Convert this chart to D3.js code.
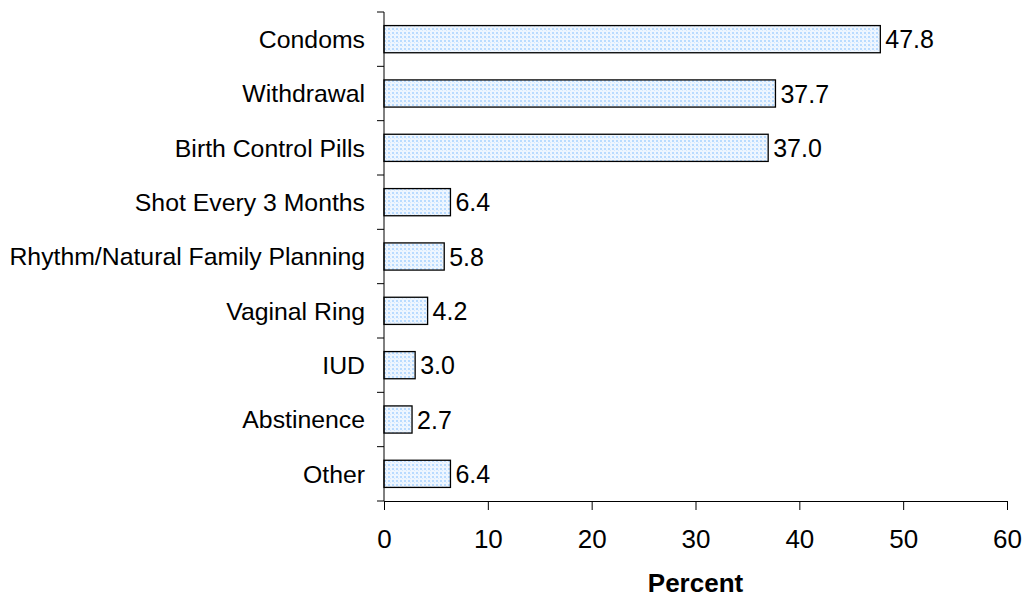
<!DOCTYPE html>
<html>
<head>
<meta charset="utf-8">
<script src="https://cdn.jsdelivr.net/npm/d3@7"></script>
<style>
  body { margin: 0; background: #fff; }
  text { font-family: "Liberation Sans", Arial, sans-serif; }
</style>
</head>
<body>
<div id="chart"></div>
<script>
// chart data
const categories = ["Condoms", "Withdrawal", "Birth Control Pills", "Shot Every 3 Months",
  "Rhythm/Natural Family Planning", "Vaginal Ring", "IUD", "Abstinence", "Other"];
const values = [47.8, 37.7, 37.0, 6.4, 5.8, 4.2, 3.0, 2.7, 6.4];
const xTicks = [0, 10, 20, 30, 40, 50, 60];

const width = 1026;
const height = 601;
const margin = {left: 384, right: 19, top: 12, bottom: 100};

const svg = d3.select("#chart")
  .append("svg")
  .attr("width", width)
  .attr("height", height);

// dotted fill like the original
const defs = svg.append("defs");
const pat = defs.append("pattern")
  .attr("id", "dots")
  .attr("patternUnits", "userSpaceOnUse")
  .attr("width", 4)
  .attr("height", 4);
pat.append("rect").attr("width", 4).attr("height", 4).attr("fill", "#eef6ff");
pat.append("rect").attr("x", 0).attr("y", 0).attr("width", 2).attr("height", 2).attr("fill", "#b9dbff");
pat.append("rect").attr("x", 2).attr("y", 2).attr("width", 1).attr("height", 1).attr("fill", "#d3e8ff");

// scales
const xScale = d3.scaleLinear()
  .domain([0, 60])
  .range([margin.left, width - margin.right]);

const yScale = d3.scaleBand()
  .domain(categories)
  .range([margin.top, height - margin.bottom])
  .paddingInner(0.5)
  .paddingOuter(0.25);

const plotBottom = height - margin.bottom;

// bars
svg.selectAll(".bar")
  .data(categories)
  .enter()
  .append("rect")
    .attr("class", "bar")
    .attr("x", xScale(0))
    .attr("y", d => yScale(d))
    .attr("width", (d, i) => xScale(values[i]) - xScale(0))
    .attr("height", yScale.bandwidth())
    .attr("fill", "url(#dots)")
    .attr("stroke", "#000")
    .attr("stroke-width", 1.3);

// value labels
svg.selectAll(".val")
  .data(categories)
  .enter()
  .append("text")
    .attr("class", "val")
    .attr("x", (d, i) => xScale(values[i]) + 5)
    .attr("y", d => yScale(d) + yScale.bandwidth() / 2)
    .attr("dy", "0.36em")
    .attr("font-size", "25px")
    .text((d, i) => values[i].toFixed(1));

// y axis: line with ticks between categories
const yBoundaries = d3.range(categories.length + 1).map(i => margin.top + i * (plotBottom - margin.top) / categories.length);
const yAxis = svg.append("g");
yAxis.append("line")
  .attr("x1", xScale(0)).attr("x2", xScale(0))
  .attr("y1", margin.top).attr("y2", plotBottom)
  .attr("stroke", "#000");
yAxis.selectAll(".ytick")
  .data(yBoundaries)
  .enter()
  .append("line")
    .attr("x1", xScale(0) - 7).attr("x2", xScale(0))
    .attr("y1", d => d).attr("y2", d => d)
    .attr("stroke", "#000");

// category labels
svg.selectAll(".cat")
  .data(categories)
  .enter()
  .append("text")
    .attr("class", "cat")
    .attr("x", xScale(0) - 19)
    .attr("y", d => yScale(d) + yScale.bandwidth() / 2)
    .attr("dy", "0.36em")
    .attr("text-anchor", "end")
    .attr("font-size", "24.8px")
    .text(d => d);

// x axis
const xAxis = svg.append("g")
  .attr("transform", `translate(0,${plotBottom})`)
  .call(d3.axisBottom(xScale).tickValues(xTicks).tickSize(9).tickPadding(20).tickSizeOuter(0));
xAxis.select(".domain").attr("stroke", "#000");
xAxis.selectAll(".tick line").attr("stroke", "#000");
xAxis.selectAll("text")
  .attr("font-size", "26px")
  .attr("font-family", "Liberation Sans, Arial, sans-serif")
  .attr("fill", "#000");

// x axis title
svg.append("text")
  .attr("x", (xScale(0) + xScale(60)) / 2)
  .attr("y", 592)
  .attr("text-anchor", "middle")
  .attr("font-size", "26px")
  .attr("font-weight", "bold")
  .text("Percent");
</script>
</body>
</html>
